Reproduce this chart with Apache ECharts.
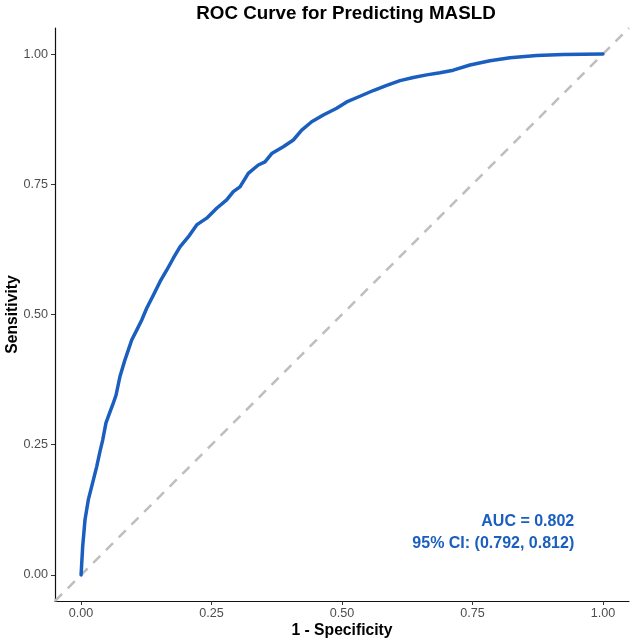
<!DOCTYPE html>
<html>
<head>
<meta charset="utf-8">
<script src="https://cdn.jsdelivr.net/npm/echarts@6/dist/echarts.min.js"></script>
<style>
  html, body { margin: 0; padding: 0; background: #fff; }
  #chart { width: 630px; height: 642px; }
</style>
</head>
<body>
<div id="chart"></div>
<script>
// ROC curve points (1 - specificity, sensitivity)
const fpr = [0, 0.003, 0.0075, 0.0138, 0.0234, 0.0299, 0.0362, 0.0414, 0.0477, 0.0554, 0.0617, 0.0669,
  0.0745, 0.0841, 0.097, 0.1066, 0.116, 0.1257, 0.1384, 0.1512, 0.164, 0.1767, 0.1895, 0.2054, 0.2215,
  0.2407, 0.2599, 0.279, 0.2917, 0.3045, 0.3204, 0.3396, 0.3524, 0.3653, 0.3875, 0.4067, 0.4228, 0.4419,
  0.4642, 0.4898, 0.509, 0.5345, 0.56, 0.5857, 0.6112, 0.6366, 0.6623, 0.6878, 0.7133, 0.7453, 0.7836,
  0.822, 0.8731, 0.9241, 1];
const tpr = [0, 0.054, 0.106, 0.144, 0.182, 0.208, 0.237, 0.259, 0.292, 0.313, 0.330, 0.345,
  0.381, 0.413, 0.451, 0.470, 0.489, 0.512, 0.537, 0.563, 0.585, 0.608, 0.630, 0.649, 0.672,
  0.685, 0.704, 0.720, 0.736, 0.745, 0.771, 0.787, 0.793, 0.809, 0.822, 0.835, 0.854, 0.870,
  0.883, 0.896, 0.908, 0.919, 0.930, 0.940, 0.949, 0.955, 0.960, 0.964, 0.969, 0.979, 0.987,
  0.993, 0.997, 0.999, 1];
// reference diagonal
const diagX = [-0.05, 1.05];
const diagY = [-0.05, 1.05];
// tick values
const xTicks = [0, 0.25, 0.5, 0.75, 1];
const yTicks = [0, 0.25, 0.5, 0.75, 1];
// texts
const titleText = 'ROC Curve for Predicting MASLD';
const xTitle = '1 - Specificity';
const yTitle = 'Sensitivity';
const annotText = ['AUC = 0.802', '95% CI: (0.792, 0.812)'];
const annotX = [0.945, 0.945];
const annotY = [0.102, 0.060];

const FONT = 'Liberation Sans, Arial, Helvetica, sans-serif';
const BLUE = '#1A5EBF';

const chart = echarts.init(document.getElementById('chart'));
const axisCommon = {
  type: 'value',
  min: -0.05,
  max: 1.05,
  splitLine: { show: false },
  axisLine: { show: true, onZero: false, lineStyle: { color: '#111', width: 1.2 } },
  axisTick: { show: true, length: 4, lineStyle: { color: '#333', width: 1 } },
  axisLabel: { color: '#4D4D4D', fontSize: 12.6, fontFamily: FONT, formatter: v => v.toFixed(2) },
  nameLocation: 'middle',
  nameMoveOverlap: false,
  nameTextStyle: { fontSize: 15.7, fontWeight: 'bold', color: '#000', fontFamily: FONT }
};

chart.setOption({
  animation: false,
  backgroundColor: '#fff',
  title: {
    text: titleText,
    left: 341,
    top: -1,
    textAlign: 'center',
    textStyle: { fontSize: 18.8, fontWeight: 'bold', color: '#000', fontFamily: FONT }
  },
  grid: { left: 55, right: 1, top: 28, bottom: 41, containLabel: false, outerBoundsMode: 'none' },
  xAxis: Object.assign({}, axisCommon, {
    name: xTitle,
    nameGap: 21.5,
    axisTick: Object.assign({}, axisCommon.axisTick, { customValues: xTicks }),
    axisLabel: Object.assign({}, axisCommon.axisLabel, { customValues: xTicks, margin: 6 })
  }),
  yAxis: Object.assign({}, axisCommon, {
    name: yTitle,
    nameGap: 34,
    axisTick: Object.assign({}, axisCommon.axisTick, { customValues: yTicks }),
    axisLabel: Object.assign({}, axisCommon.axisLabel, { customValues: yTicks, margin: 7 })
  }),
  series: [
    {
      type: 'line',
      data: diagX.map((x, i) => [x, diagY[i]]),
      symbol: 'none',
      lineStyle: { color: '#BEBEBE', width: 2.5, type: [10, 8] },
      silent: true,
      z: 1
    },
    {
      type: 'line',
      data: fpr.map((x, i) => [x, tpr[i]]),
      symbol: 'none',
      lineStyle: { color: BLUE, width: 3.5, join: 'round', cap: 'round' },
      silent: true,
      z: 3
    },
    {
      type: 'scatter',
      data: annotX.map((x, i) => ({ value: [x, annotY[i]], name: annotText[i] })),
      symbolSize: 0,
      silent: true,
      z: 4,
      itemStyle: { opacity: 1, color: BLUE },
      label: {
        show: true,
        position: [0, 0],
        align: 'right',
        verticalAlign: 'middle',
        formatter: p => p.name,
        color: BLUE,
        opacity: 1,
        fontSize: 16,
        fontWeight: 'bold',
        fontFamily: FONT
      }
    }
  ]
});
</script>
</body>
</html>
